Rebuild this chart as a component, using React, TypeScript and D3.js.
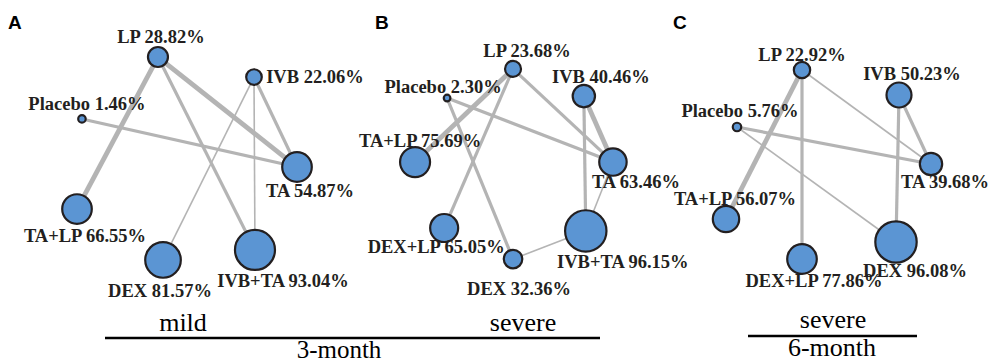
import React from "react";
import * as d3 from "d3";

// ---- data ----
// A: 3-month, mild
const nodesA = ["LP", "IVB", "TA", "IVB+TA", "DEX", "TA+LP", "Placebo"];
const sucraA = [28.82, 22.06, 54.87, 93.04, 81.57, 66.55, 1.46];
const sizeA = [100, 61, 219, 400, 317, 219, 14];
const edgesA: [string, string, number][] = [
  ["LP", "TA+LP", 3], ["LP", "TA", 3], ["LP", "IVB+TA", 2],
  ["Placebo", "TA", 2], ["IVB", "TA", 2], ["IVB", "DEX", 1], ["IVB", "IVB+TA", 1],
];

// B: 3-month, severe
const nodesB = ["LP", "IVB", "TA", "IVB+TA", "DEX", "DEX+LP", "TA+LP", "Placebo"];
const sucraB = [23.68, 40.46, 63.46, 96.15, 32.36, 65.05, 75.69, 2.30];
const sizeB = [64, 125, 188, 428, 86, 196, 225, 11];
const edgesB: [string, string, number][] = [
  ["LP", "TA+LP", 3], ["LP", "DEX+LP", 2], ["LP", "TA", 2],
  ["Placebo", "TA", 2], ["Placebo", "DEX", 2], ["IVB", "TA", 3],
  ["IVB", "IVB+TA", 2], ["TA", "IVB+TA", 1], ["DEX", "IVB+TA", 1],
];

// C: 6-month, severe
const nodesC = ["LP", "IVB", "TA", "DEX", "DEX+LP", "TA+LP", "Placebo"];
const sucraC = [22.92, 50.23, 39.68, 96.08, 77.86, 56.07, 5.76];
const sizeC = [67, 156, 125, 428, 219, 174, 18];
const edgesC: [string, string, number][] = [
  ["LP", "TA+LP", 3], ["LP", "DEX+LP", 2], ["LP", "TA", 1],
  ["Placebo", "TA", 2], ["Placebo", "DEX", 1], ["IVB", "TA", 2], ["IVB", "DEX", 2],
];

// network layout coordinates (unit space, y up)
const layoutA: [number, number][] = [
  [-0.264, 0.918], [0.609, 0.736], [1.0, -0.082], [0.618, -0.836],
  [-0.218, -0.927], [-1.0, -0.464], [-0.955, 0.355],
];
const layoutB: [number, number][] = [
  [-0.01, 0.98], [0.72, 0.7], [1.02, 0.02], [0.74, -0.69],
  [-0.01, -0.98], [-0.72, -0.66], [-1.02, 0.02], [-0.69, 0.68],
];
const layoutC: [number, number][] = [
  [-0.27, 0.94], [0.7, 0.69], [1.02, 0], [0.67, -0.78],
  [-0.27, -0.95], [-1.03, -0.55], [-0.92, 0.37],
];

// ---- styling / placement ----
const FILL = "#5b95d3";
const INK = "#231f20";
const EDGE = "#b4b4b4";
const SERIF = "'Liberation Serif', 'Times New Roman', serif";
const SANS = "'Liberation Sans', Arial, sans-serif";

const labelA: Record<string, [number, number]> = {
  LP: [3, -14], IVB: [61, 6], TA: [13, 30], "IVB+TA": [28, 37],
  DEX: [-3, 37], "TA+LP": [8, 33], Placebo: [5, -9],
};
const labelB: Record<string, [number, number]> = {
  LP: [14, -12], IVB: [17, -13], TA: [23, 26], "IVB+TA": [37, 37],
  DEX: [6, 36], "DEX+LP": [-8, 25], "TA+LP": [5, -15], Placebo: [-4, -5],
};
const labelC: Record<string, [number, number]> = {
  LP: [0, -9], IVB: [13, -15], TA: [14, 24], DEX: [19, 35],
  "DEX+LP": [12, 28], "TA+LP": [9, -14], Placebo: [3, -10],
};

const panels = [
  { letter: "A", lx: 8, nodes: nodesA, sucra: sucraA, size: sizeA, layout: layoutA, edges: edgesA, cx: 187, cy: 158, s: 110, labels: labelA },
  { letter: "B", lx: 375, nodes: nodesB, sucra: sucraB, size: sizeB, layout: layoutB, edges: edgesB, cx: 514, cy: 164, s: 97, labels: labelB },
  { letter: "C", lx: 673, nodes: nodesC, sucra: sucraC, size: sizeC, layout: layoutC, edges: edgesC, cx: 829, cy: 164, s: 100, labels: labelC },
];

const rScale = d3.scaleSqrt().domain([0, 400]).range([0, 20]);
const wScale = d3.scaleLinear().domain([1, 3]).range([1.6, 4.8]);

const Panel = ({ p }: { p: (typeof panels)[number] }) => {
  const x = d3.scaleLinear().domain([-1, 1]).range([p.cx - p.s, p.cx + p.s]);
  const y = d3.scaleLinear().domain([-1, 1]).range([p.cy + p.s, p.cy - p.s]);
  const pos: Record<string, [number, number]> = {};
  p.nodes.forEach((n, i) => { pos[n] = [x(p.layout[i][0]), y(p.layout[i][1])]; });

  return (
    <g>
      <text x={p.lx} y={29} fontFamily={SANS} fontWeight="bold" fontSize={19} fill="#000">{p.letter}</text>
      {p.edges.map(([a, b, k], i) => (
        <line key={i} x1={pos[a][0]} y1={pos[a][1]} x2={pos[b][0]} y2={pos[b][1]}
          stroke={EDGE} strokeWidth={wScale(k)} />
      ))}
      {p.nodes.map((n, i) => (
        <circle key={n} cx={pos[n][0]} cy={pos[n][1]} r={rScale(p.size[i])}
          fill={FILL} stroke={INK} strokeWidth={2.2} />
      ))}
      {p.nodes.map((n, i) => {
        const [dx, dy] = p.labels[n];
        return (
          <text key={n} x={pos[n][0] + dx} y={pos[n][1] + dy} textAnchor="middle"
            fontFamily={SERIF} fontWeight="bold" fontSize={18.5} fill={INK}>
            {`${n} ${p.sucra[i].toFixed(2)}%`}
          </text>
        );
      })}
    </g>
  );
};

export default function App() {
  return (
    <svg width={990} height={363} style={{ position: "absolute", left: 0, top: 0, background: "#fff" }}>
      {panels.map((p) => <Panel key={p.letter} p={p} />)}
      <g fontFamily={SERIF} fontSize={26} fill="#000" textAnchor="middle">
        <text x={183} y={331}>mild</text>
        <text x={523} y={331}>severe</text>
        <line x1={105} x2={600} y1={338} y2={338} stroke="#000" strokeWidth={2.5} />
        <text x={339} y={358} fontSize={25}>3-month</text>
        <text x={833} y={328}>severe</text>
        <line x1={748} x2={917} y1={336} y2={336} stroke="#000" strokeWidth={2.5} />
        <text x={832} y={356}>6-month</text>
      </g>
    </svg>
  );
}
